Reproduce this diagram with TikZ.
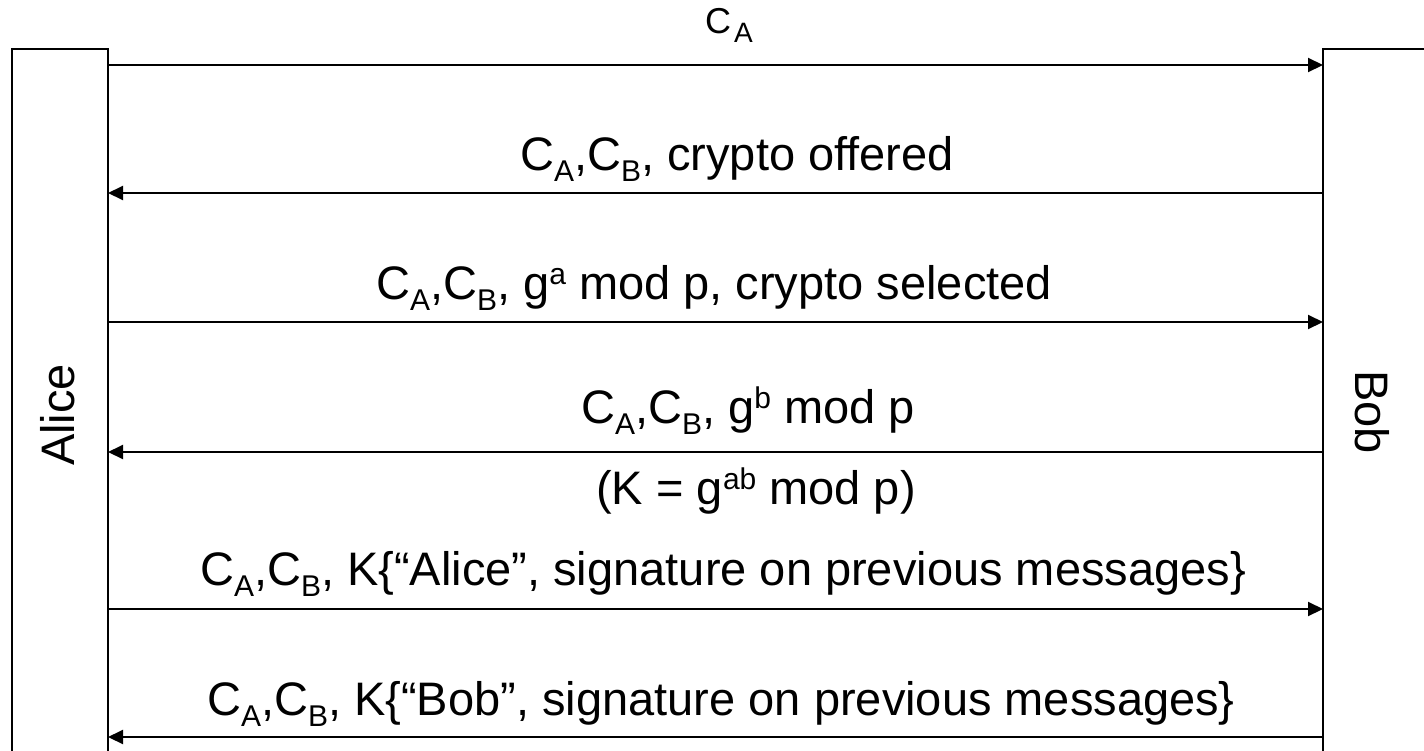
\documentclass[tikz,border=0pt]{standalone}
\usepackage{fontspec}
\setmainfont{Liberation Sans}
\usetikzlibrary{arrows.meta}
% PowerPoint-like sub- and superscripts
\newcommand{\lo}[1]{\raisebox{-0.25em}{\fontsize{15}{15}\selectfont #1}}
\newcommand{\hi}[1]{\raisebox{0.3em}{\fontsize{15}{15}\selectfont #1}}
\tikzset{
  msg/.style={anchor=base,inner sep=0pt,font=\fontsize{23.5}{28}\selectfont},
  party/.style={inner sep=0pt,font=\fontsize{23.5}{28}\selectfont},
}
\begin{document}
\begin{tikzpicture}[x=0.5pt,y=-0.5pt,line width=1pt,>={Triangle[length=7.5pt,width=7pt]}]
  \useasboundingbox (0,0) rectangle (1424,750);
  \clip (0,0) rectangle (1424,750);
  % the two parties
  \draw (12,49) rectangle (108,800);
  \draw (1323,49) rectangle (1440,800);
  \node[party,rotate=90] (alice) at (58,415) {Alice};
  \node[party,rotate=-90] (bob) at (1372,412) {Bob};
  % ends of the messages
  \coordinate (a1) at (108,65);  \coordinate (b1) at (1323,65);
  \coordinate (a2) at (108,193); \coordinate (b2) at (1323,193);
  \coordinate (a3) at (108,322); \coordinate (b3) at (1323,322);
  \coordinate (a4) at (108,452); \coordinate (b4) at (1323,452);
  \coordinate (a5) at (108,609); \coordinate (b5) at (1323,609);
  \coordinate (a6) at (108,737); \coordinate (b6) at (1323,737);
  \draw[->] (a1) -- (b1);
  \draw[->] (b2) -- (a2);
  \draw[->] (a3) -- (b3);
  \draw[->] (b4) -- (a4);
  \draw[->] (a5) -- (b5);
  \draw[->] (b6) -- (a6);
  % message texts
  \node[msg,font=\fontsize{18}{21}\selectfont] (m1) at (729,33) {C\hspace{1.5pt}\lo{\fontsize{14}{14}\selectfont A}};
  \node[msg] (m2) at (737,170) {C\lo{A},C\lo{B}, crypto offered};
  \node[msg] (m3) at (714,299) {C\lo{A},C\lo{B}, g\hi{a} mod p, crypto selected};
  \node[msg] (m4) at (748,423) {C\lo{A},C\lo{B}, g\hi{b} mod p};
  \node[msg] (k) at (756,504) {(K = g\hi{ab} mod p)};
  \node[msg] (m5) at (723,585) {C\lo{A},C\lo{B}, K\{“Alice”, signature on previous messages\}};
  \node[msg] (m6) at (721,715) {C\lo{A},C\lo{B}, K\{“Bob”, signature on previous messages\}};
\end{tikzpicture}
\end{document}
